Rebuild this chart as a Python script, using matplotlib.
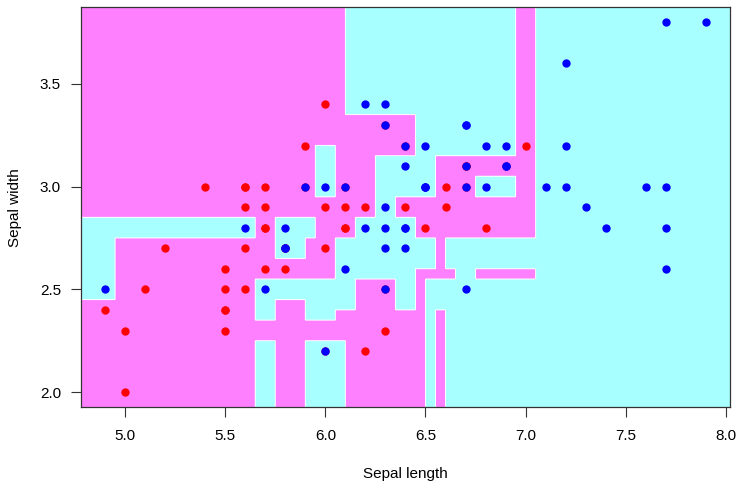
import numpy as np
import matplotlib
matplotlib.use('Agg')
import matplotlib.pyplot as plt
from matplotlib.colors import ListedColormap

plt.rcParams['font.family'] = ['Liberation Sans', 'DejaVu Sans']

# iris versicolor (red) and virginica (blue): sepal length / width
vers_len = [7.0, 6.4, 6.9, 5.5, 6.5, 5.7, 6.3, 4.9, 6.6, 5.2, 5.0, 5.9, 6.0, 6.1, 5.6,
            6.7, 5.6, 5.8, 6.2, 5.6, 5.9, 6.1, 6.3, 6.1, 6.4, 6.6, 6.8, 6.7, 6.0, 5.7,
            5.5, 5.5, 5.8, 6.0, 5.4, 6.0, 6.7, 6.3, 5.6, 5.5, 5.5, 6.1, 5.8, 5.0, 5.6,
            5.7, 5.7, 6.2, 5.1, 5.7]
vers_wid = [3.2, 3.2, 3.1, 2.3, 2.8, 2.8, 3.3, 2.4, 2.9, 2.7, 2.0, 3.0, 2.2, 2.9, 2.9,
            3.1, 3.0, 2.7, 2.2, 2.5, 3.2, 2.8, 2.5, 2.8, 2.9, 3.0, 2.8, 3.0, 2.9, 2.6,
            2.4, 2.4, 2.7, 2.7, 3.0, 3.4, 3.1, 2.3, 3.0, 2.5, 2.6, 3.0, 2.6, 2.3, 2.7,
            3.0, 2.9, 2.9, 2.5, 2.8]
virg_len = [6.3, 5.8, 7.1, 6.3, 6.5, 7.6, 4.9, 7.3, 6.7, 7.2, 6.5, 6.4, 6.8, 5.7, 5.8,
            6.4, 6.5, 7.7, 7.7, 6.0, 6.9, 5.6, 7.7, 6.3, 6.7, 7.2, 6.2, 6.1, 6.4, 7.2,
            7.4, 7.9, 6.4, 6.3, 6.1, 7.7, 6.3, 6.4, 6.0, 6.9, 6.7, 6.9, 5.8, 6.8, 6.7,
            6.7, 6.3, 6.5, 6.2, 5.9]
virg_wid = [3.3, 2.7, 3.0, 2.9, 3.0, 3.0, 2.5, 2.9, 2.5, 3.6, 3.2, 2.7, 3.0, 2.5, 2.8,
            3.2, 3.0, 3.8, 2.6, 2.2, 3.2, 2.8, 2.8, 2.7, 3.3, 3.2, 2.8, 3.0, 2.8, 3.0,
            2.8, 3.8, 2.8, 2.8, 2.6, 3.0, 3.4, 3.1, 3.0, 3.1, 3.1, 3.1, 2.7, 3.2, 3.3,
            3.0, 2.5, 3.0, 3.4, 3.0]

# decision regions, one horizontal band at a time
# 1 = versicolor (magenta), 0 = virginica (cyan); class flips at each break
band_y = [1.928, 2.25, 2.35, 2.4, 2.45, 2.55, 2.6, 2.65, 2.75, 2.85, 2.95,
          3.05, 3.15, 3.2, 3.35, 3.872]
band_first = [1, 1, 1, 1, 0, 0, 0, 0, 0, 1, 1, 1, 1, 1, 1]
band_breaks = [
    [5.65, 5.75, 5.9, 6.1, 6.5, 6.55, 6.6],
    [6.5, 6.55, 6.6],
    [5.65, 5.75, 5.9, 6.05, 6.5, 6.55, 6.6],
    [5.65, 5.75, 5.9, 6.15, 6.35, 6.45, 6.5],
    [4.95, 5.65, 6.15, 6.35, 6.45, 6.5],
    [4.95, 6.05, 6.45, 6.65, 6.75, 7.05],
    [4.95, 6.05, 6.55, 6.6],
    [4.95, 5.75, 5.9, 6.05, 6.55, 6.6],
    [5.65, 5.75, 5.95, 6.15, 6.45, 7.05],
    [6.25, 6.35, 7.05],
    [5.95, 6.05, 6.25, 6.55, 6.75, 6.95, 7.05],
    [5.95, 6.05, 6.25, 6.55, 7.05],
    [5.95, 6.05, 6.45, 6.95, 7.05],
    [6.45, 6.95, 7.05],
    [6.1, 6.95, 7.05],
]

x_ticks = [5.0, 5.5, 6.0, 6.5, 7.0, 7.5, 8.0]
y_ticks = [2.0, 2.5, 3.0, 3.5]

xmin, xmax = 4.78, 8.02
ymin, ymax = band_y[0], band_y[-1]

# rasterise the bands onto a fine grid
xs = np.arange(xmin, xmax, 0.0025) + 0.00125
ys = np.arange(ymin, ymax, 0.0025) + 0.00125
Z = np.zeros((len(ys), len(xs)))
for i in range(len(band_first)):
    rows = (ys >= band_y[i]) & (ys < band_y[i + 1])
    k = np.searchsorted(band_breaks[i], xs)
    cls = np.where(k % 2 == 0, band_first[i], 1 - band_first[i])
    Z[rows, :] = cls

fig = plt.figure(figsize=(7.38, 4.83), dpi=100)
ax = fig.add_axes([0.1098, 0.1574, 0.8792, 0.8273])

ax.imshow(Z, origin='lower', extent=[xmin, xmax, ymin, ymax], aspect='auto',
          cmap=ListedColormap(['#a8ffff', '#ff80ff']), interpolation='nearest')
ax.contour(xs, ys, Z, levels=[0.5], colors='white', linewidths=0.7)

ax.plot(vers_len, vers_wid, 'o', color='red', ms=6, mew=0)
ax.plot(virg_len, virg_wid, 'o', color='blue', ms=6, mew=0)

ax.set_xlim(xmin, xmax)
ax.set_ylim(ymin, ymax)
ax.set_xticks(x_ticks)
ax.set_xticklabels(['%.1f' % v for v in x_ticks])
ax.set_yticks(y_ticks)
ax.set_yticklabels(['%.1f' % v for v in y_ticks])
ax.tick_params(direction='out', length=7, width=0.8, color='#333333',
               labelsize=11)
ax.tick_params(axis='x', pad=9)
ax.tick_params(axis='y', pad=7.5)
for s in ax.spines.values():
    s.set_color('#333333')
    s.set_linewidth(0.9)

ax.set_xlabel('Sepal length', fontsize=11, labelpad=17)
ax.set_ylabel('Sepal width', fontsize=11, labelpad=13)

fig.savefig('out.png', dpi=100)
